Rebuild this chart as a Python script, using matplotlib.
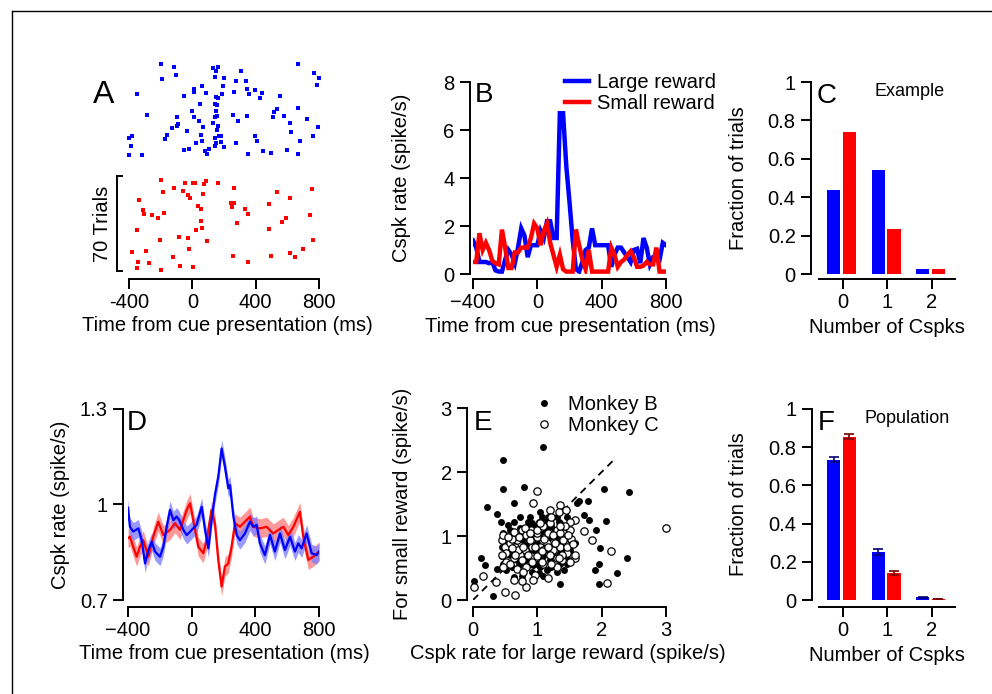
import matplotlib
matplotlib.use('Agg')
import matplotlib.pyplot as plt
from matplotlib.lines import Line2D

plt.rcParams['font.family'] = ['Liberation Sans', 'DejaVu Sans']

W, H = 992, 694
BLUE = '#0000ff'
RED = '#ff0000'

# ---------------- Panel A: raster (time ms, trial index) ----------------
rasA_blue_t = [-198, -114, -194, -103, -347, -284, -398, -381, -385, -398, -318, -50, 8, 10, 59, 86, 48, -2, 13,
               -99, -90, -95, -128, -162, -170, -32, 42, 70, 53, 61, 25, -23, -53, 82, 95, 107, 130, 147, 162,
               145, 202, 192, 185, 164, 152, 141, 154, 149, 158, 145, 128, 162, 154, 145, 166, 181, 152, 143,
               183, 200, 307, 276, 263, 341, 347, 360, 394, 438, 429, 257, 288, 276, 347, 352, 396, 406, 444,
               495, 554, 514, 535, 512, 577, 617, 621, 665, 722, 796, 764, 682, 598, 667, 669, 768, 798, 789]
rasA_blue_trial = [1, 3, 12, 9, 23, 38, 55, 54, 61, 68, 68, 24, 19, 21, 17, 22, 30, 35, 40,
                   40, 45, 46, 48, 53, 56, 50, 43, 47, 53, 57, 59, 63, 64, 65, 67, 63, 4, 6, 3,
                   10, 11, 17, 23, 26, 25, 30, 31, 35, 39, 40, 44, 46, 49, 55, 54, 54, 59, 61,
                   58, 62, 6, 13, 21, 13, 19, 23, 20, 22, 26, 38, 43, 59, 39, 67, 54, 57, 65,
                   66, 24, 36, 34, 40, 39, 44, 51, 33, 41, 47, 54, 57, 64, 67, 1, 7, 11, 16]
rasA_red_t = [-198, -187, -116, -61, -44, 2, 15, 71, 86, 160, -25, -15, 69, 261, -339, -310, -303, -253,
              -219, -179, -352, -381, -345, -352, -293, -276, -202, -200, -120, -86, -80, -25, -19, 2,
              38, 53, 57, 61, 25, 93, 246, 252, 263, 330, 349, 280, 259, 349, 484, 537, 617, 758, 741,
              568, 589, 482, 495, 617, 648, 699, 764]
rasA_red_trial = [0, 9, 6, 8, 2, 2, 2, 3, 1, 2, 11, 13, 10, 6, 15, 22, 25, 26,
                  28, 24, 37, 53, 60, 65, 52, 61, 44, 66, 57, 42, 63, 43, 51, 64,
                  19, 21, 30, 35, 37, 45, 17, 20, 17, 21, 25, 32, 56, 60, 18, 9, 13, 7, 26,
                  31, 28, 36, 56, 54, 57, 51, 44]
RED_ROW_OFFSET = 86
SCALE_TRIALS = (83, 153)   # 70 trials
A_xticks = [-400, 0, 400, 800]

# ---------------- Panel B: PSTH ----------------
psth_t = [-400, -380, -360, -340, -320, -300, -280, -260, -240, -220, -200, -180, -160, -140, -120, -100,
          -80, -60, -40, -20, 0, 20, 40, 60, 80, 100, 120, 140, 160, 180, 200, 220, 240, 260, 280, 300,
          320, 340, 360, 380, 400, 420, 440, 460, 480, 500, 520, 540, 560, 580, 600, 620, 640, 660, 680,
          700, 720, 740, 760, 780, 800]
psth_large = [1.4, 1.1, 0.5, 0.5, 0.5, 0.45, 0.5, 0.15, 0.1, 0.1, 0.6, 1.0, 0.8, 0.45, 1.1, 1.9,
              1.6, 0.7, 1.2, 1.2, 1.2, 1.8, 1.5, 2.2, 2.2, 1.5, 1.5, 6.7, 6.7, 4.5, 3.0, 1.4, 0.2, 0.1, 0.5, 1.0,
              1.1, 1.9, 1.2, 1.2, 1.2, 1.2, 1.2, 0.3, 0.8, 1.1, 1.1, 0.9, 0.7, 0.5, 1.0, 1.05, 0.45, 1.5, 1.1,
              0.4, 0.7, 0.7, 0.6, 1.3, 1.2]
psth_small = [0.5, 0.5, 1.7, 1.0, 1.3, 1.0, 0.55, 0.45, 0.4, 1.85, 1.1, 0.25, 0.25, 0.9, 0.9, 1.1,
              1.1, 1.1, 1.5, 2.1, 1.9, 1.2, 1.8, 2.1, 1.3, 0.8, 0.3, 0.8, 0.2, 0.1, 0.1, 0.1, 1.85, 1.2, 0.6, 0.2,
              1.0, 0.1, 0.1, 0.1, 0.1, 0.1, 0.1, 1.1, 0.8, 0.3, 0.5, 0.6, 0.8, 0.95, 0.7, 0.3, 0.3, 0.35, 0.5,
              0.4, 0.4, 1.1, 0.1, 0.1, 0.1]
B_yticks = [0, 2, 4, 6, 8]

# ---------------- Panel C / F: fraction of trials ----------------
n_cspks = [0, 1, 2]
C_large = [0.44, 0.54, 0.025]
C_small = [0.74, 0.235, 0.025]
F_large = [0.735, 0.25, 0.015]
F_small = [0.855, 0.14, 0.005]
F_large_err = [0.015, 0.015, 0.003]
F_small_err = [0.012, 0.01, 0.002]
frac_yticks = [0, 0.2, 0.4, 0.6, 0.8, 1]
frac_yticklabels = ['0', '0.2', '0.4', '0.6', '0.8', '1']

# ---------------- Panel D: population PSTH ----------------
D_large_t = [-400, -388, -367, -335, -314, -293, -272, -251, -230, -199, -178, -157, -136, -115, -94, -78,
             -52, -31, 0, 31, 63, 84, 105, 125, 146, 167, 188, 209, 230, 241, 262, 283, 303, 335, 366, 387,
             408, 429, 460, 492, 523, 555, 586, 618, 649, 670, 691, 722, 754, 785, 800]
D_large_v = [0.99, 0.93, 0.915, 0.925, 0.888, 0.815, 0.857, 0.883, 0.852, 0.836, 0.867, 0.93, 0.983, 0.951,
             0.962, 0.951, 0.92, 0.904, 0.92, 0.936, 0.993, 0.92, 0.862, 0.951, 1.03, 1.087, 1.176, 1.119,
             1.051, 1.061, 0.962, 0.904, 0.888, 0.909, 0.946, 0.93, 0.936, 0.878, 0.841, 0.904, 0.852, 0.909,
             0.857, 0.899, 0.852, 0.878, 0.862, 0.909, 0.847, 0.841, 0.852]
D_small_t = [-400, -388, -346, -325, -304, -272, -241, -210, -178, -136, -105, -73, -31, -10, 10, 42, 73,
             94, 125, 146, 167, 188, 209, 230, 251, 272, 303, 335, 366, 387, 429, 471, 513, 544, 576, 607,
             639, 680, 701, 733, 764, 800]
D_small_v = [0.894, 0.899, 0.836, 0.867, 0.888, 0.836, 0.899, 0.946, 0.904, 0.92, 0.941, 0.92, 0.983, 1.004,
             0.951, 0.867, 0.847, 0.888, 0.983, 0.941, 0.826, 0.742, 0.805, 0.815, 0.867, 0.941, 0.93, 0.946,
             0.962, 0.93, 0.925, 0.93, 0.909, 0.92, 0.93, 0.904, 0.93, 0.977, 0.899, 0.826, 0.836, 0.852]
D_large_sem = 0.028
D_small_sem = 0.030
D_yticks = [0.7, 1.0, 1.3]
D_yticklabels = ['0.7', '1', '1.3']

# ---------------- Panel E: scatter ----------------
monkeyB_x = [1.09, 0.46, 0.47, 0.80, 0.21, 0.63, 0.37, 0.44, 2.03, 2.43, 1.79, 1.61, 1.65, 1.73, 1.80, 2.07,
             1.91, 1.98, 1.96, 1.89, 2.40, 2.24, 1.96, 1.35, 0.31, 0.01, 0.12, 0.19, 0.37, 0.63, 0.78, 0.45,
             0.50, 0.58, 0.73, 0.89, 1.04, 1.17, 1.30, 1.02, 0.91, 0.46, 0.58, 0.52, 0.68, 0.83, 0.94, 1.09,
             1.22, 1.35, 1.46, 0.99, 1.15, 1.25, 1.35, 0.89, 1.09, 1.20, 0.99, 0.83, 0.68, 0.60, 1.35, 1.46,
             1.04, 1.15, 0.78, 0.63, 1.20, 0.96, 0.73, 1.25, 1.35, 0.47, 0.91, 1.51, 1.51,
             0.55, 0.63, 0.86, 1.12, 1.07, 1.33, 1.41, 0.76, 1.04, 1.30, 0.58, 0.81, 0.96, 1.17, 1.38, 0.71,
             0.94, 1.22, 1.46, 0.52, 0.76, 1.02, 1.09, 1.30, 0.45, 1.59, 1.51, 0.89, 0.63, 1.28, 1.17, 1.04,
             0.84, 1.41]
monkeyB_y = [2.39, 2.19, 1.73, 1.76, 1.46, 1.51, 1.34, 1.22, 1.73, 1.68, 1.54, 1.51, 1.55, 1.33, 1.25, 1.23,
             1.09, 0.81, 0.56, 0.47, 0.65, 0.42, 0.25, 0.25, 0.07, 0.30, 0.66, 0.54, 0.49, 0.36, 0.44, 0.69,
             0.81, 0.70, 1.30, 1.30, 1.38, 1.30, 1.30, 1.22, 1.20, 1.05, 1.10, 0.94, 1.04, 1.09, 0.99, 1.07,
             1.15, 1.20, 1.30, 0.89, 0.94, 0.83, 0.73, 0.78, 0.68, 0.63, 0.57, 0.63, 0.63, 0.52, 0.57, 0.57,
             0.52, 0.47, 0.94, 0.83, 0.99, 1.15, 1.12, 0.70, 0.89, 0.57, 0.44, 0.78, 0.94,
             1.17, 1.22, 1.22, 1.22, 1.30, 1.22, 1.12, 1.02, 0.99, 0.99, 0.76, 0.70, 0.76, 0.78, 0.76, 0.55,
             0.55, 0.52, 0.65, 0.47, 0.37, 0.42, 0.37, 0.44, 0.83, 0.89, 1.09, 1.15, 0.94, 1.09, 1.12, 0.68,
             0.86, 0.47]
monkeyC_x = [1.00, 0.94, 1.35, 1.20, 1.33, 1.58, 1.50, 1.73, 1.85, 2.14, 2.08, 1.59, 0.01, 0.16, 0.36, 0.50,
             0.66, 0.83, 0.76, 1.17, 0.96, 0.45, 0.50, 0.58, 0.65, 0.76, 0.83, 0.94, 1.04, 1.12, 1.30, 1.40,
             1.53, 1.35, 1.46, 1.25, 1.15, 1.04, 0.91, 0.81, 0.73, 0.63, 0.52, 0.47, 0.68, 0.83, 0.99, 1.09,
             0.89, 0.68, 1.30, 1.38, 1.46, 0.70, 0.99, 1.20, 1.09, 1.40, 3.00, 0.55, 1.20, 1.00, 0.90, 1.30,
             0.60, 1.10, 1.50, 1.45, 1.55,
             0.47, 0.55, 0.63, 0.71, 0.81, 0.89, 0.99, 1.09, 1.17, 1.25, 1.35, 1.43, 1.48, 0.52, 0.60, 0.78,
             0.86, 0.96, 1.07, 1.17, 1.28, 1.38, 0.58, 0.65, 0.76, 0.91, 1.07, 1.22, 1.33, 0.78, 0.94, 0.63,
             1.35, 1.22, 1.04, 1.59, 0.45, 1.51]
monkeyC_y = [1.70, 1.52, 1.48, 1.41, 1.38, 1.25, 1.22, 1.08, 0.94, 0.77, 0.27, 0.65, 0.21, 0.38, 0.28, 0.13,
             0.08, 0.21, 0.29, 0.35, 0.39, 0.94, 0.83, 0.89, 0.83, 1.09, 1.02, 1.07, 1.12, 0.99, 1.09, 1.04,
             0.96, 0.83, 0.73, 0.78, 0.89, 0.83, 0.83, 0.78, 0.70, 0.65, 0.60, 0.52, 0.49, 0.52, 0.68, 0.78,
             0.94, 0.94, 0.52, 0.63, 0.83, 0.78, 0.99, 0.70, 0.57, 0.94, 1.13, 1.00, 1.20, 1.05, 1.10, 0.65,
             0.95, 0.95, 1.10, 1.40, 0.88,
             1.02, 0.99, 1.07, 0.99, 1.12, 1.04, 1.09, 1.15, 1.04, 1.02, 1.04, 1.15, 1.02, 0.73, 0.81, 0.83,
             0.70, 0.83, 0.76, 0.83, 0.89, 0.70, 0.57, 0.70, 0.63, 0.60, 0.60, 0.57, 0.65, 0.44, 0.31, 0.31,
             1.15, 1.30, 1.20, 0.70, 0.70, 0.60]
unity_line = [0, 2.2]
E_ticks = [0, 1, 2, 3]

# ======================================================================
fig = plt.figure(figsize=(W / 100, H / 100), dpi=100)
PX = 0.72  # points per pixel

LW_AX = 1.4
FS = 14.5


def add_ax(x0, x1, yt, yb):
    ax = fig.add_axes([x0 / W, 1 - yb / H, (x1 - x0) / W, (yb - yt) / H])
    ax.patch.set_alpha(0)
    return ax, (x0, x1, yt, yb)


def ax_coords(box, px, py):
    x0, x1, yt, yb = box
    return (px - x0) / (x1 - x0), (yb - py) / (yb - yt)


def style(ax, left_out=None, bottom_out=None):
    for s in ['top', 'right']:
        ax.spines[s].set_visible(False)
    for s in ['left', 'bottom']:
        ax.spines[s].set_linewidth(LW_AX)
    if left_out is None:
        ax.spines['left'].set_visible(False)
        ax.set_yticks([])
    else:
        ax.spines['left'].set_position(('outward', left_out * PX))
    ax.spines['bottom'].set_position(('outward', bottom_out * PX))
    ax.tick_params(direction='out', length=7, width=LW_AX, labelsize=FS, colors='black')
    ax.tick_params(axis='x', pad=3)
    ax.tick_params(axis='y', pad=4)


def set_labels(ax, box, xlabel, xl_center, xl_top, ylabel=None, yl_right=None):
    ax.set_xlabel(xlabel, fontsize=FS)
    ax.xaxis.set_label_coords(*ax_coords(box, xl_center, xl_top))
    if ylabel is not None:
        ax.set_ylabel(ylabel, fontsize=FS)
        x0, x1, yt, yb = box
        ax.yaxis.set_label_coords(*ax_coords(box, yl_right, (yt + yb) / 2))


def letter(ch, x, ybase, size=20):
    fig.text(x / W, 1 - ybase / H, ch, fontsize=size, ha='left', va='baseline')


# ---------------- A ----------------
row_px = 1.36
yA_top = (58 - 63) / row_px
yA_bot = (274 - 63) / row_px
axA, boxA = add_ax(129, 319, 58, 274)
axA.plot(rasA_blue_t, rasA_blue_trial, ls='none', marker='s', ms=2.7, mew=0, color=BLUE, clip_on=False)
axA.plot(rasA_red_t, [r + RED_ROW_OFFSET for r in rasA_red_trial], ls='none', marker='s', ms=2.7, mew=0,
         color=RED, clip_on=False)
axA.set_xlim(-400, 800)
axA.set_ylim(yA_bot, yA_top)
style(axA, None, 5)
axA.spines['bottom'].set_bounds(-400, 800)
axA.set_xticks(A_xticks)
axA.set_xticklabels([str(v) for v in A_xticks])
set_labels(axA, boxA, 'Time from cue presentation (ms)', 227, 316)
# scale bar
bar_x = -400 - 12 * 1200 / 190
tick_x = -400 - 7 * 1200 / 190
axA.plot([tick_x, bar_x, bar_x, tick_x], [SCALE_TRIALS[0], SCALE_TRIALS[0], SCALE_TRIALS[1], SCALE_TRIALS[1]],
         color='black', lw=1.4, clip_on=False, solid_joinstyle='miter')
fig.text(103 / W, 1 - 224 / H, '70 Trials', rotation=90, fontsize=FS, ha='center', va='center')
letter('A', 93, 103, 23)

# ---------------- B ----------------
axB, boxB = add_ax(473, 666, 82, 274)
lB1, = axB.plot(psth_t, psth_large, color=BLUE, lw=3.2, label='Large reward', solid_joinstyle='miter')
lB2, = axB.plot(psth_t, psth_small, color=RED, lw=3.2, label='Small reward', solid_joinstyle='miter')
axB.set_xlim(-400, 800)
axB.set_ylim(0, 8)
style(axB, 3, 5)
axB.spines['left'].set_bounds(0, 8)
axB.spines['bottom'].set_bounds(-400, 800)
axB.set_xticks(A_xticks)
axB.set_yticks(B_yticks)
set_labels(axB, boxB, 'Time from cue presentation (ms)', 570, 317, 'Cspk rate (spike/s)', 411)
axB.legend(handles=[lB1, lB2], loc='upper left', bbox_to_anchor=ax_coords(boxB, 565, 73), frameon=False,
           borderpad=0, borderaxespad=0, handlelength=1.2, handletextpad=0.4, labelspacing=0.08, fontsize=FS)
letter('B', 475, 102)

# ---------------- C ----------------
def frac_panel(yt, yb, yspine_x, xspine_off, large, small, large_err=None, small_err=None):
    px_unit = 44.5
    x_zero = 842.7
    ax, box = add_ax(yspine_x, 955, yt, yb)
    ax.bar([c - 0.2 for c in n_cspks], large, width=0.3, color=BLUE, edgecolor='none')
    ax.bar([c + 0.15 for c in n_cspks], small, width=0.3, color=RED, edgecolor='none')
    if large_err is not None:
        ax.errorbar([c - 0.2 for c in n_cspks], large, yerr=large_err, fmt='none', ecolor='#00007a',
                    elinewidth=1.2, capsize=3.6, capthick=1.2)
        ax.errorbar([c + 0.15 for c in n_cspks], small, yerr=small_err, fmt='none', ecolor='#7a0000',
                    elinewidth=1.2, capsize=3.6, capthick=1.2)
    ax.set_xlim((yspine_x - x_zero) / px_unit, (955 - x_zero) / px_unit)
    ax.set_ylim(0, 1)
    style(ax, 0, xspine_off)
    ax.spines['bottom'].set_bounds((819 - x_zero) / px_unit, (955 - x_zero) / px_unit)
    ax.spines['left'].set_bounds(0, 1)
    ax.set_xticks(n_cspks)
    ax.set_yticks(frac_yticks)
    ax.set_yticklabels(frac_yticklabels)
    return ax, box


axC, boxC = frac_panel(82, 274, 811, 5, C_large, C_small)
set_labels(axC, boxC, 'Number of Cspks', 887, 318, 'Fraction of trials', 748)
letter('C', 817, 103)
fig.text(874 / W, 1 - 96 / H, 'Example', fontsize=13, ha='left', va='baseline')

# ---------------- D ----------------
axD, boxD = add_ax(128, 319, 409, 600)
axD.fill_between(D_small_t, [v - D_small_sem for v in D_small_v], [v + D_small_sem for v in D_small_v],
                 color='#ff8080', alpha=0.8, lw=0)
axD.fill_between(D_large_t, [v - D_large_sem for v in D_large_v], [v + D_large_sem for v in D_large_v],
                 color='#8080ff', alpha=0.8, lw=0)
axD.plot(D_small_t, D_small_v, color=RED, lw=1.6)
axD.plot(D_large_t, D_large_v, color=BLUE, lw=1.6)
axD.set_xlim(-400, 800)
axD.set_ylim(0.7, 1.3)
style(axD, 5, 7)
axD.spines['left'].set_bounds(0.7, 1.3)
axD.spines['bottom'].set_bounds(-400, 800)
axD.set_xticks(A_xticks)
axD.set_yticks(D_yticks)
axD.set_yticklabels(D_yticklabels)
set_labels(axD, boxD, 'Time from cue presentation (ms)', 224, 644, 'Cspk rate (spike/s)', 70)
letter('D', 127, 430)

# ---------------- E ----------------
axE, boxE = add_ax(473, 666, 408, 600)
axE.plot(unity_line, unity_line, ls=(0, (4, 3)), color='black', lw=1.3, zorder=1)
hB, = axE.plot(monkeyB_x, monkeyB_y, ls='none', marker='o', ms=5.0, mew=0, color='black', zorder=2,
               label='Monkey B', clip_on=False)
hC, = axE.plot(monkeyC_x, monkeyC_y, ls='none', marker='o', ms=5.3, mew=0.9, mfc='white', mec='black',
               zorder=3, label='Monkey C', clip_on=False)
axE.set_xlim(0, 3)
axE.set_ylim(0, 3)
style(axE, 6, 7)
axE.spines['left'].set_bounds(0, 3)
axE.spines['bottom'].set_bounds(0, 3)
axE.set_xticks(E_ticks)
axE.set_yticks(E_ticks)
set_labels(axE, boxE, 'Cspk rate for large reward (spike/s)', 568, 644, 'For small reward (spike/s)', 412)
axE.legend(handles=[hB, hC], loc='upper left', bbox_to_anchor=ax_coords(boxE, 534, 395), frameon=False,
           borderpad=0, borderaxespad=0, handlelength=1.0, handletextpad=0.7, labelspacing=0.08,
           fontsize=FS, numpoints=1)
letter('E', 474, 430)

# ---------------- F ----------------
axF, boxF = frac_panel(409, 600, 812, 7, F_large, F_small, F_large_err, F_small_err)
set_labels(axF, boxF, 'Number of Cspks', 887, 646, 'Fraction of trials', 748)
letter('F', 818, 430)
fig.text(865 / W, 1 - 423 / H, 'Population', fontsize=13, ha='left', va='baseline')

# frame lines (top and left)
fig.add_artist(Line2D([12 / W, 1], [1 - 11 / H, 1 - 11 / H], color='black', lw=1.0))
fig.add_artist(Line2D([12 / W, 12 / W], [1 - 11 / H, 0], color='black', lw=1.0))

fig.savefig('out.png', dpi=100)
